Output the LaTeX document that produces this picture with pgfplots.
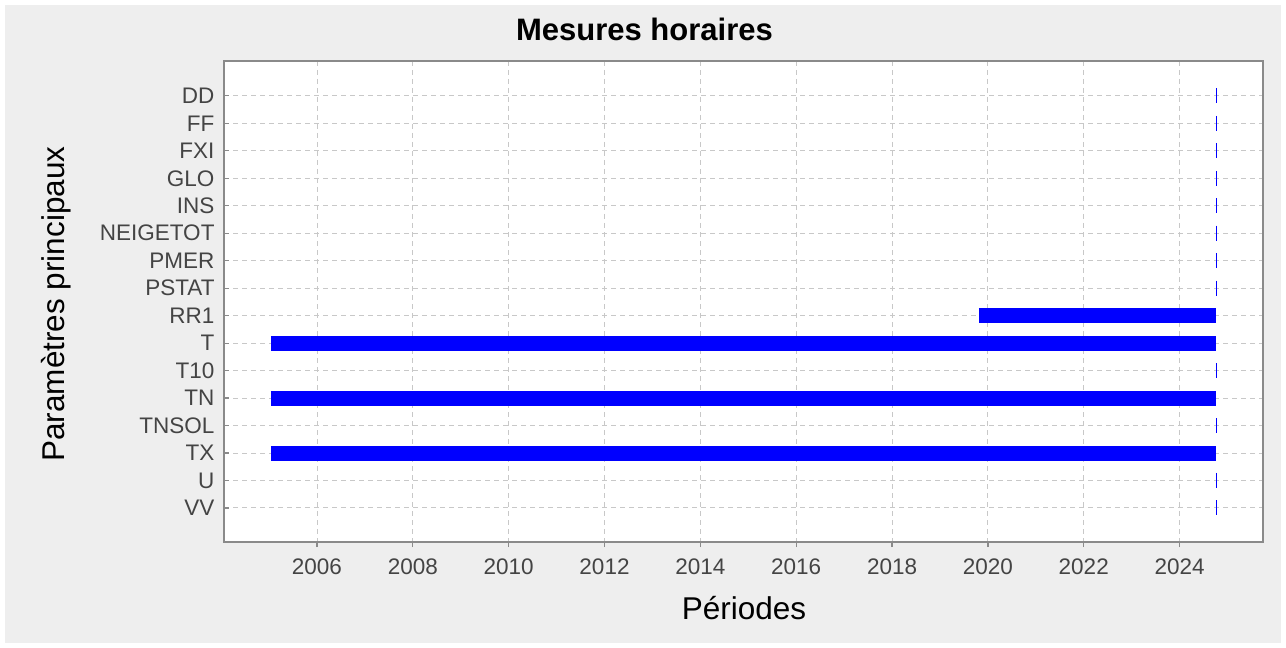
\documentclass[border=0pt]{standalone}
\usepackage{pgfplots}
\pgfplotsset{compat=1.18}
\usepackage{fontspec}
\setmainfont{Liberation Sans}
\definecolor{bggray}{HTML}{EEEEEE}
\definecolor{gridgray}{HTML}{C8C8C8}
\definecolor{axgray}{HTML}{8A8A8A}
\definecolor{ticktxt}{HTML}{444444}
\begin{document}
\begin{tikzpicture}[x=1pt,y=1pt]
\path[fill=white] (0,0) rectangle (1286,648);
\path[fill=bggray] (5,5) rectangle (1281,643);
\begin{axis}[
  at={(224pt,106pt)}, anchor=south west,
  width=1039pt, height=481pt, scale only axis,
  axis background/.style={fill=white},
  xmin=2004.06, xmax=2025.74,
  ymin=-1.27, ymax=16.24, y dir=reverse,
  xtick={2006,2008,...,2024},
  ytick={0,...,15},
  yticklabels={DD,FF,FXI,GLO,INS,NEIGETOT,PMER,PSTAT,RR1,T,T10,TN,TNSOL,TX,U,VV},
  /pgf/number format/1000 sep={},
  /pgf/number format/assume math mode=true,
  tick label style={font=\fontsize{22.5}{26}\selectfont, text=ticktxt},
  xticklabel style={yshift=-8pt},
  yticklabel style={xshift=-1pt},
  xtick style={draw=axgray, line width=1.2pt},
  ytick style={draw=axgray, line width=1.2pt, xshift=5pt},
  major tick length=5pt,
  tick align=outside,
  xtick pos=bottom,
  ytick pos=left,
  grid=major,
  major grid style={draw=gridgray, dashed, line width=0.9pt, dash pattern=on 5pt off 4pt, xshift=0pt},
  axis line style={draw=axgray, line width=1.6pt},
  clip=false,
]
\addplot[blue, line width=15pt, line cap=butt] coordinates {
  (2005.04,9) (2024.77,9)

  (2005.04,11) (2024.77,11)

  (2005.04,13) (2024.77,13)

  (2019.81,8) (2024.77,8)
};
\addplot[only marks, blue, mark=|, mark size=7.5pt, mark options={line width=1.3pt}] coordinates {
  (2024.77,0) (2024.77,1) (2024.77,2) (2024.77,3) (2024.77,4) (2024.77,5) (2024.77,6) (2024.77,7)
  (2024.77,10) (2024.77,12) (2024.77,14) (2024.77,15)
};
\end{axis}
\node[font=\bfseries\fontsize{31}{34}\selectfont] at (644.5,619) {Mesures horaires};
\node[font=\fontsize{31.5}{35}\selectfont, rotate=90] at (56,344) {Paramètres principaux};
\node[font=\fontsize{31.5}{35}\selectfont] at (744,40) {Périodes};
\end{tikzpicture}
\end{document}
